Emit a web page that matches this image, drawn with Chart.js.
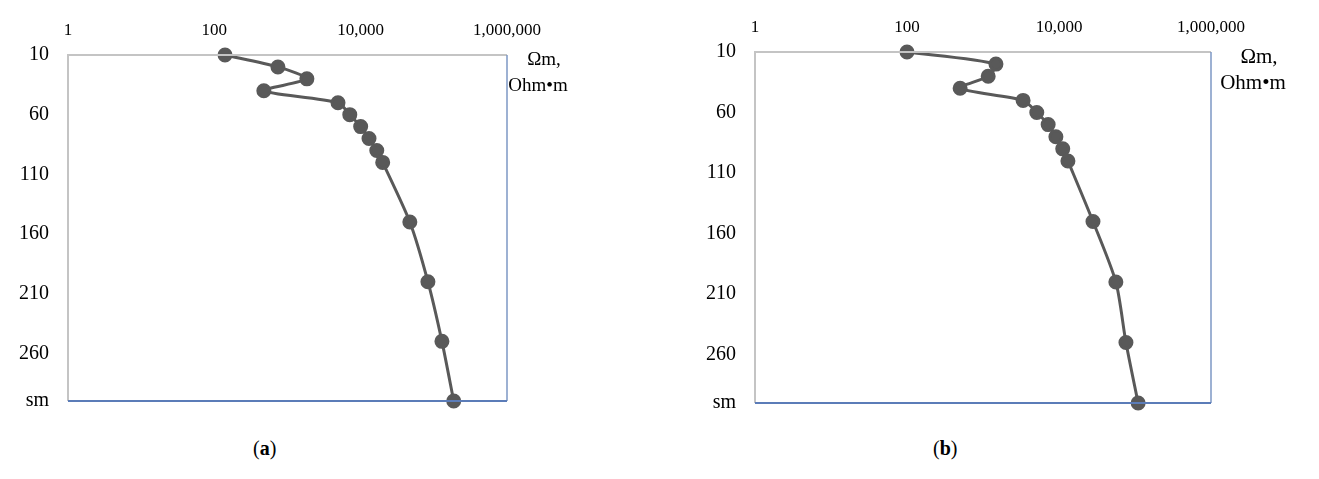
<!DOCTYPE html>
<html>
<head>
<meta charset="utf-8">
<script src="https://cdn.jsdelivr.net/npm/chart.js@4"></script>
<style>
  body { margin: 0; background: #fff; width: 1319px; height: 479px; position: relative; overflow: hidden; }
  .panel { position: absolute; top: 0; }
  .caption { position: absolute; top: 437px; font: 20px "Liberation Serif", serif; color: #000; }
</style>
</head>
<body>
<div class="panel" style="left:0;width:600px;height:432px"><canvas id="chartA"></canvas></div>
<div class="panel" style="left:680px;width:620px;height:434px"><canvas id="chartB"></canvas></div>
<div class="caption" style="left:253px">(<b>a</b>)</div>
<div class="caption" style="left:933px">(<b>b</b>)</div>

<script>
// depth of each reading, sm
var depths = [10, 20, 30, 40, 50, 60, 70, 80, 90, 100, 150, 200, 250, 300];

// resistivity, Ohm·m
var resistA = [140, 740, 1840, 475, 4900, 7100, 10000, 13000, 16600, 20000, 47000, 83000, 129000, 187000];
var resistB = [100, 1480, 1170, 500, 3370, 5100, 7200, 9100, 11200, 13100, 28000, 56000, 76000, 110000];

var xTicks = [1, 100, 10000, 1000000];
var yTicks = [10, 60, 110, 160, 210, 260, 300];
var yTickLabels = ['10', '60', '110', '160', '210', '260', 'sm'];

var lineColor = '#595959';

// plot frame + unit label next to the top right corner
var framePlugin = {
  id: 'frame',
  afterDraw: function(chart, args, opts) {
    var a = chart.chartArea, ctx = chart.ctx;
    ctx.save();
    ctx.lineWidth = 2;
    ctx.strokeStyle = '#c4c4c4';
    ctx.beginPath();
    ctx.moveTo(a.left, a.bottom);
    ctx.lineTo(a.left, a.top);
    ctx.lineTo(a.right, a.top);
    ctx.stroke();
    ctx.strokeStyle = '#7d97c4';
    ctx.lineWidth = 1.5;
    ctx.beginPath();
    ctx.moveTo(a.right, a.top);
    ctx.lineTo(a.right, a.bottom);
    ctx.stroke();
    ctx.lineWidth = 2;
    ctx.strokeStyle = '#5b7cb8';
    ctx.beginPath();
    ctx.moveTo(a.left, a.bottom);
    ctx.lineTo(a.right, a.bottom);
    ctx.stroke();

    ctx.fillStyle = '#000';
    ctx.font = opts.unitSize + 'px "Liberation Serif", serif';
    ctx.textAlign = 'center';
    ctx.textBaseline = 'middle';
    ctx.fillText('\u03A9m,', a.right + opts.unitOffset + 6, a.top + 5);
    ctx.fillText('Ohm\u2022m', a.right + opts.unitOffset, a.top + 31);
    ctx.restore();
  }
};

function makeChart(id, values, lay) {
  var points = depths.map(function(d, i) {
    return { x: values[i], y: d };
  });

  return new Chart(document.getElementById(id), {
    type: 'line',
    data: {
      datasets: [{
        data: points,
        borderColor: lineColor,
        backgroundColor: lineColor,
        borderWidth: 3,
        pointRadius: 6,
        pointHoverRadius: 6,
        tension: 0.25,
        clip: false,
      }],
    },
    options: {
      responsive: true,
      maintainAspectRatio: false,
      animation: false,
      layout: { padding: lay.padding },
      plugins: {
        legend: { display: false },
        tooltip: { enabled: false },
        frame: { unitOffset: lay.unitOffset, unitSize: lay.unitSize },
      },
      scales: {
        x: {
          type: 'logarithmic',
          position: 'top',
          min: 1,
          max: 1000000,
          grid: { display: false, drawTicks: false },
          border: { display: false },
          afterBuildTicks: function(axis) {
            axis.ticks = xTicks.map(function(v) { return { value: v }; });
          },
          afterFit: function(axis) { axis.height = lay.xAxisHeight; },
          ticks: {
            padding: 14,
            maxRotation: 0,
            color: '#000',
            font: { family: '"Liberation Serif", serif', size: 17 },
            callback: function(v) { return Number(v).toLocaleString('en-US'); },
          },
        },
        y: {
          type: 'linear',
          reverse: true,
          min: 10,
          max: 300,
          grid: { display: false, drawTicks: false },
          border: { display: false },
          afterBuildTicks: function(axis) {
            axis.ticks = yTicks.map(function(v) { return { value: v }; });
          },
          afterFit: function(axis) { axis.width = lay.yAxisWidth; },
          ticks: {
            padding: 19,
            color: '#000',
            font: { family: '"Liberation Serif", serif', size: 20 },
            callback: function(v) { return yTickLabels[yTicks.indexOf(v)]; },
          },
        },
      },
    },
    plugins: [framePlugin],
  });
}

makeChart('chartA', resistA, {
  padding: { left: 0, top: 0, right: 93, bottom: 8 },
  yAxisWidth: 68,
  xAxisHeight: 55,
  unitOffset: 31,
  unitSize: 19,
});

makeChart('chartB', resistB, {
  padding: { left: 0, top: 0, right: 89, bottom: 6 },
  yAxisWidth: 75,
  xAxisHeight: 52,
  unitOffset: 42,
  unitSize: 21,
});
</script>
</body>
</html>
